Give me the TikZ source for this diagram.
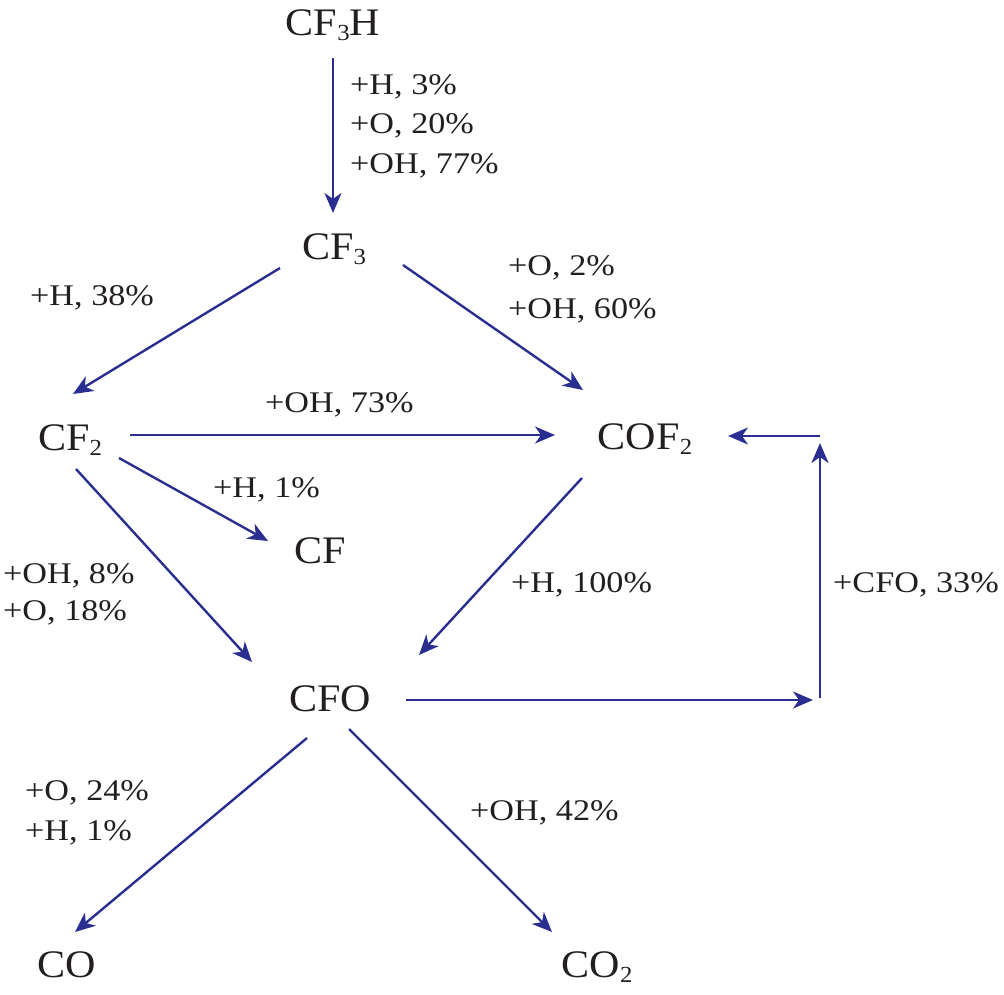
\documentclass[tikz,border=0pt]{standalone}
\usepackage{fontspec}
\setmainfont{Liberation Serif}
\newfontfamily\labfont[FakeStretch=1.14]{Liberation Serif}
\newfontfamily\specfont[FakeStretch=1.08]{Liberation Serif}
\usetikzlibrary{arrows.meta,calc}
\definecolor{arrblue}{RGB}{43,46,145}
\definecolor{txt}{RGB}{35,31,32}
\newcommand{\sbs}[1]{\raisebox{-5pt}{\fontsize{23}{23}\selectfont #1}}
\tikzset{
  species/.style={anchor=base, inner sep=0pt, text=txt, font=\specfont\fontsize{39}{44}\selectfont},
  lab/.style={anchor=base west, inner sep=0pt, text=txt, font=\labfont\fontsize{30}{34}\selectfont},
  arr/.style={draw=arrblue, line width=2.4pt, -{Stealth[length=20pt,width=17pt,inset=6pt]}}
}
\begin{document}
\begin{tikzpicture}[x=1pt,y=-1pt]
\useasboundingbox (0,0) rectangle (1004,994);
% species
\node[species] (cf3h) at (333,35) {CF\sbs{3}H};
\node[species] (cf3) at (334,259) {CF\sbs{3}};
\node[species] (cf2) at (70,450) {CF\sbs{2}};
\node[species] (cof2) at (645,449) {COF\sbs{2}};
\node[species] (cf) at (320,563) {CF};
\node[species] (cfo) at (330,711) {CFO};
\node[species] (co) at (67,977) {CO};
\node[species] (co2) at (597,977) {CO\sbs{2}};
% helper coordinates for the loop back to COF2
\coordinate (t1) at (813,700);
\coordinate (b1) at (820,698);
\coordinate (b2) at (820,443);
\coordinate (b3) at (820,436);
% connectors
\draw[arr] ($(cf3h.base)+(0,23)$) -- ($(cf3.base)+(-1,-46)$);
\draw[arr] ($(cf3.base)+(-54,9)$) -- ($(cf2.base)+(3,-56)$);
\draw[arr] ($(cf3.base)+(69,6)$) -- ($(cof2.base)+(-62,-59)$);
\draw[arr] ($(cf2.base)+(60,-15)$) -- ($(cof2.base)+(-90,-14)$);
\draw[arr] ($(cf2.base)+(49,8)$) -- ($(cf.base)+(-52,-22)$);
\draw[arr] ($(cf2.base)+(6,19)$) -- ($(cfo.base)+(-78,-49)$);
\draw[arr] ($(cof2.base)+(-63,29)$) -- ($(cfo.base)+(89,-56)$);
\draw[arr] ($(cfo.base)+(76,-11)$) -- (t1);
\draw[arr] (b1) -- (b2);
\draw[arr] (b3) -- ($(cof2.base)+(83,-13)$);
\draw[arr] ($(cfo.base)+(-23,27)$) -- ($(co.base)+(8,-45)$);
\draw[arr] ($(cfo.base)+(19,18)$) -- ($(co2.base)+(-45,-45)$);
% labels
\node[lab] (l1a) at (350,94) {+H, 3\%};
\node[lab] (l1b) at (350,133) {+O, 20\%};
\node[lab] (l1c) at (350,173) {+OH, 77\%};
\node[lab] (l2) at (30,305) {+H, 38\%};
\node[lab] (l3a) at (508,275) {+O, 2\%};
\node[lab] (l3b) at (508,318) {+OH, 60\%};
\node[lab] (l4) at (265,412) {+OH, 73\%};
\node[lab] (l5) at (213,497) {+H, 1\%};
\node[lab] (l6a) at (3,583) {+OH, 8\%};
\node[lab] (l6b) at (3,620) {+O, 18\%};
\node[lab] (l7) at (511,592) {+H, 100\%};
\node[lab] (l8) at (833,592) {+CFO, 33\%};
\node[lab] (l9a) at (25,800) {+O, 24\%};
\node[lab] (l9b) at (25,840) {+H, 1\%};
\node[lab] (l10) at (470,820) {+OH, 42\%};
\end{tikzpicture}
\end{document}
